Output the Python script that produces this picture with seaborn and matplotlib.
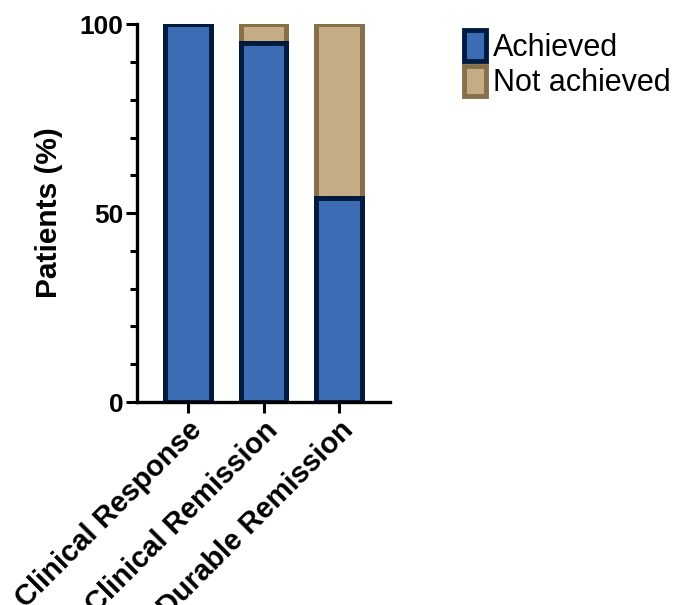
import pandas as pd
import matplotlib.pyplot as plt
import seaborn as sns
from matplotlib.patches import Patch
from matplotlib.ticker import MultipleLocator

# Values
categories = ['Clinical Response', 'Clinical Remission', 'Durable Remission']
achieved = [100, 95, 54]
total = [100, 100, 100]
series_labels = ['Achieved', 'Not achieved']

df = pd.DataFrame({'Outcome': categories, 'Achieved': achieved, 'Total': total})

sns.set_style('ticks')
plt.rcParams['font.family'] = ['Liberation Sans', 'DejaVu Sans']
plt.rcParams['text.color'] = 'black'
plt.rcParams['axes.labelcolor'] = 'black'
plt.rcParams['xtick.color'] = 'black'
plt.rcParams['ytick.color'] = 'black'

blue_fill, blue_edge = '#3c6db4', '#001a40'
tan_fill, tan_edge = '#c4ac84', '#86704a'

fig = plt.figure(figsize=(6.77, 6.05), dpi=100)
ax = fig.add_axes([0.2024, 0.3355, 0.3737, 0.6245])

sns.barplot(data=df, x='Outcome', y='Total', color=tan_fill, edgecolor=tan_edge,
            linewidth=3.6, width=0.6, saturation=1, ax=ax)
sns.barplot(data=df, x='Outcome', y='Achieved', color=blue_fill, edgecolor=blue_edge,
            linewidth=3.6, width=0.6, saturation=1, ax=ax)

ax.set_xlim(-0.675, 2.675)
ax.set_ylim(0, 100)
ax.set_yticks([0, 50, 100])
ax.yaxis.set_minor_locator(MultipleLocator(10))
ax.tick_params(axis='both', which='major', length=8, width=2.2, labelsize=19, pad=2)
ax.tick_params(axis='y', which='minor', length=5, width=2.2)
for lab in ax.get_yticklabels():
    lab.set_fontweight('bold')
ax.set_xticks(range(len(categories)))
ax.set_xticklabels(categories, rotation=45, ha='right', rotation_mode='anchor',
                   fontsize=21, fontweight='bold')
ax.set_xlabel('')
ax.set_ylabel('Patients (%)', fontsize=21.5, fontweight='bold', labelpad=12)
sns.despine(ax=ax)
for s in ['left', 'bottom']:
    ax.spines[s].set_linewidth(2.4)
    ax.spines[s].set_color('black')

handles = [Patch(facecolor=blue_fill, edgecolor=blue_edge, linewidth=3.5),
           Patch(facecolor=tan_fill, edgecolor=tan_edge, linewidth=3.5)]
fig.legend(handles, series_labels, loc='upper left', bbox_to_anchor=(0.663, 0.975),
           frameon=False, fontsize=22, handlelength=0.7, handleheight=1.15,
           handletextpad=0.25, labelspacing=0.1, borderpad=0)

fig.savefig('out.png', dpi=100)
plt.close()
